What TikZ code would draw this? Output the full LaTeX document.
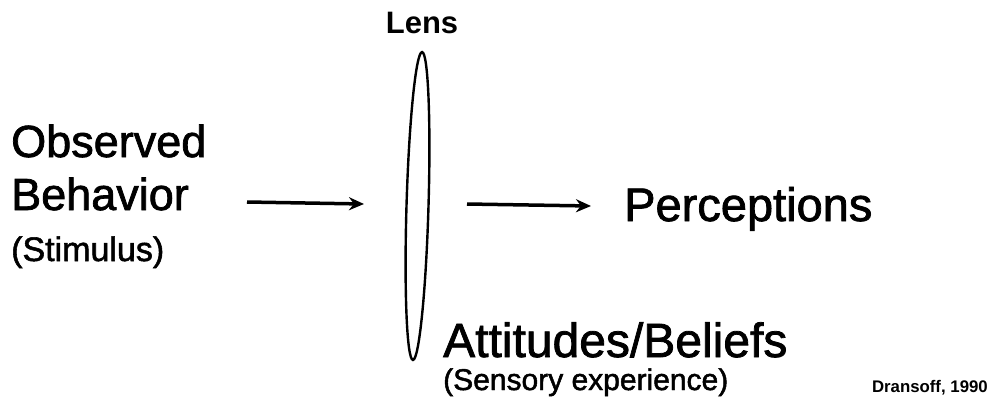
\documentclass[tikz,border=0pt]{standalone}
\usepackage{fontspec}
\setmainfont{Liberation Sans}
\newfontfamily\medfont[FakeBold=1.6]{Liberation Sans}
\usetikzlibrary{arrows.meta,shapes.geometric}
\tikzset{
  txt/.style={inner sep=0pt, anchor=base west},
  conn/.style={line width=3.5pt, -{Stealth[length=15pt,width=13pt]}},
}
\begin{document}
\begin{tikzpicture}[x=1pt,y=-1pt]
\useasboundingbox[fill=white] (0,0) rectangle (991,400);
\node[inner sep=0pt, anchor=base, font=\bfseries\fontsize{31}{31}\selectfont] (lenslbl) at (422,33) {Lens};
\node[draw, ellipse, line width=2.4pt, minimum width=22pt, minimum height=308pt, inner sep=0pt, rotate=-1.7] (lens) at (417.5,206) {};
\node[txt, font=\medfont\fontsize{45}{45}\selectfont] (obs) at (11,157) {Observed};
\node[txt, font=\medfont\fontsize{45}{45}\selectfont] (beh) at (11,210) {Behavior};
\node[txt, font=\medfont\fontsize{34}{34}\selectfont] (stim) at (11,261) {(Stimulus)};
\node[txt, font=\medfont\fontsize{47}{47}\selectfont] (perc) at (624,221) {Perceptions};
\node[txt, font=\medfont\fontsize{48}{48}\selectfont] (att) at (443,357) {Attitudes/Beliefs};
\node[txt, font=\medfont\fontsize{30}{30}\selectfont] (sens) at (443,390) {(Sensory experience)};
\node[inner sep=0pt, anchor=base east, font=\bfseries\fontsize{16.8}{16.8}\selectfont] (cred) at (988,392) {Dransoff, 1990};
\coordinate (a1s) at (247,202);
\coordinate (a1e) at (364,204);
\coordinate (a2s) at (467,204);
\coordinate (a2e) at (591,206);
\draw[conn] (a1s) -- (a1e);
\draw[conn] (a2s) -- (a2e);
\end{tikzpicture}
\end{document}
